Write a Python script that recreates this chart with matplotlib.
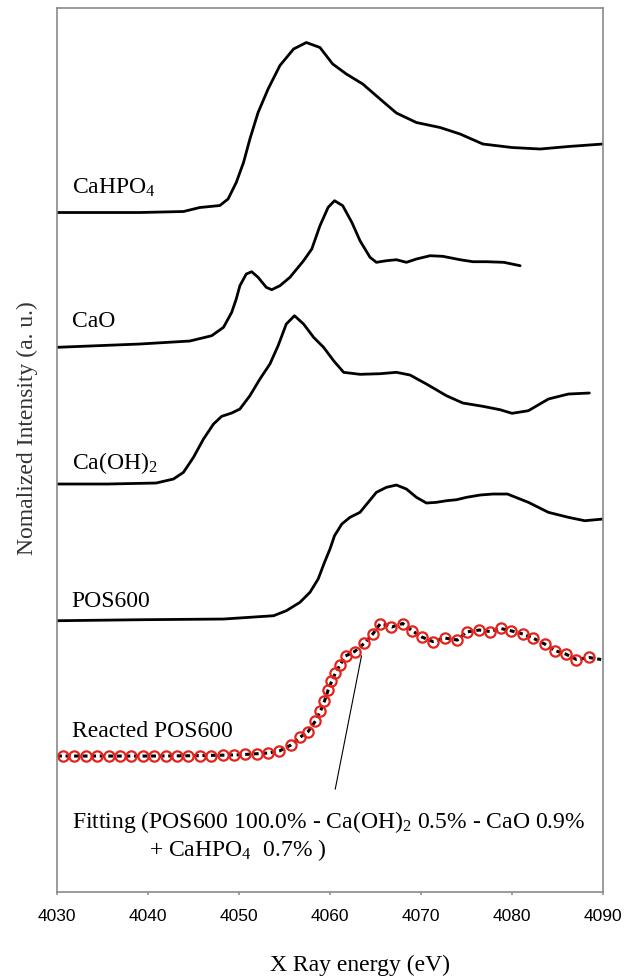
import matplotlib
matplotlib.use("Agg")
import matplotlib.pyplot as plt
from matplotlib import font_manager

# ---- data (energy in eV, edge-normalised intensity) ----
cahpo4_energy = [4030.0, 4039.1, 4043.9, 4045.7, 4047.9, 4048.8, 4049.7, 4050.5, 4051.2,
                 4052.1, 4053.2, 4054.5, 4056.0, 4057.4, 4058.9, 4060.3, 4061.8, 4063.6,
                 4065.5, 4067.3, 4069.5, 4072.1, 4074.3, 4076.8, 4080.0, 4083.1, 4086.2, 4090.0]
cahpo4_norm = [0.0, 0.0, 0.01, 0.05, 0.07, 0.135, 0.30, 0.50, 0.735,
               1.00, 1.235, 1.47, 1.635, 1.70, 1.65, 1.485, 1.385, 1.285,
               1.135, 0.995, 0.90, 0.85, 0.785, 0.685, 0.65, 0.635, 0.66, 0.685]

cao_energy = [4030.0, 4039.1, 4044.6, 4047.0, 4048.3, 4049.2, 4049.7, 4050.1, 4050.8,
              4051.4, 4052.1, 4053.0, 4053.6, 4054.5, 4055.6, 4057.1, 4058.0, 4058.9,
              4059.8, 4060.5, 4061.4, 4062.4, 4063.3, 4064.4, 4065.1, 4066.2, 4067.3,
              4068.4, 4069.5, 4071.0, 4072.4, 4074.3, 4075.7, 4077.2, 4079.1, 4080.9]
cao_norm = [0.0, 0.033, 0.063, 0.116, 0.20, 0.35, 0.483, 0.616, 0.733,
            0.756, 0.70, 0.60, 0.576, 0.616, 0.70, 0.866, 0.983, 1.216,
            1.40, 1.466, 1.416, 1.25, 1.066, 0.90, 0.85, 0.866, 0.876,
            0.85, 0.883, 0.916, 0.91, 0.876, 0.856, 0.856, 0.85, 0.816]

caoh2_energy = [4030.0, 4035.5, 4040.9, 4042.8, 4043.9, 4045.0, 4046.1, 4047.2, 4048.1,
                4049.2, 4050.1, 4051.2, 4052.3, 4053.4, 4054.3, 4055.2, 4056.1, 4057.1,
                4058.2, 4059.3, 4060.4, 4061.5, 4063.3, 4065.5, 4067.3, 4068.8, 4070.6,
                4072.8, 4074.6, 4076.8, 4078.7, 4080.0, 4081.8, 4084.0, 4086.2, 4088.5]
caoh2_norm = [0.0, 0.0, 0.01, 0.05, 0.117, 0.267, 0.45, 0.60, 0.677,
              0.71, 0.75, 0.883, 1.05, 1.20, 1.383, 1.60, 1.683, 1.60,
              1.467, 1.367, 1.233, 1.117, 1.097, 1.103, 1.117, 1.09, 1.00,
              0.883, 0.81, 0.777, 0.743, 0.707, 0.733, 0.85, 0.90, 0.91]

pos600_energy = [4030.0, 4039.1, 4048.3, 4053.8, 4055.2, 4056.7, 4057.8, 4058.7, 4059.4,
                 4060.0, 4060.5, 4061.3, 4062.2, 4063.3, 4064.2, 4065.1, 4066.2, 4067.3,
                 4068.4, 4069.5, 4070.6, 4071.7, 4072.8, 4073.9, 4075.0, 4076.5, 4077.9,
                 4079.5, 4081.8, 4084.0, 4086.2, 4088.0, 4090.0]
pos600_norm = [0.0, 0.01, 0.017, 0.05, 0.10, 0.184, 0.284, 0.417, 0.584,
               0.717, 0.85, 0.967, 1.034, 1.084, 1.184, 1.284, 1.334, 1.357,
               1.317, 1.234, 1.177, 1.184, 1.20, 1.21, 1.234, 1.257, 1.267,
               1.267, 1.184, 1.084, 1.034, 1.00, 1.017]

reacted_energy = [4030.0, 4040.0, 4045.0, 4050.0, 4053.2, 4054.5, 4055.7, 4056.7, 4057.6,
                  4058.4, 4059.0, 4059.4, 4059.8, 4060.2, 4060.6, 4061.1, 4061.7, 4062.7,
                  4063.8, 4064.7, 4065.5, 4066.2, 4066.8, 4067.4, 4068.0, 4069.0, 4070.1,
                  4071.3, 4072.6, 4074.0, 4075.0, 4076.4, 4077.6, 4078.8, 4080.0, 4081.2,
                  4082.3, 4083.6, 4084.7, 4085.9, 4087.1, 4088.5, 4089.8]
reacted_norm = [0.0, 0.0, 0.003, 0.012, 0.03, 0.053, 0.11, 0.187, 0.245,
                0.35, 0.46, 0.55, 0.66, 0.75, 0.83, 0.91, 1.0, 1.045,
                1.13, 1.22, 1.32, 1.31, 1.29, 1.31, 1.325, 1.255, 1.19,
                1.145, 1.18, 1.16, 1.24, 1.26, 1.245, 1.275, 1.25, 1.22,
                1.18, 1.12, 1.055, 1.02, 0.965, 0.985, 0.965]

fit_energy = [4030.66, 4031.91, 4033.16, 4034.42, 4035.67, 4036.92, 4038.17, 4039.42,
              4040.68, 4041.93, 4043.18, 4044.43, 4045.68, 4046.94, 4048.19, 4049.44,
              4050.69, 4051.94, 4053.20, 4054.45, 4055.70, 4056.69, 4057.60, 4058.39,
              4058.94, 4059.38, 4059.80, 4060.15, 4060.59, 4061.08, 4061.71, 4062.73,
              4063.77, 4064.74, 4065.51, 4066.76, 4068.00, 4069.01, 4070.11, 4071.33,
              4072.61, 4073.95, 4075.03, 4076.35, 4077.56, 4078.76, 4079.94, 4081.21,
              4082.31, 4083.60, 4084.69, 4085.90, 4087.08, 4088.46]
fit_norm = [0.0, 0.0, 0.0, 0.0, 0.0, 0.0, 0.0, 0.0,
            0.0, 0.0, 0.0, 0.0, 0.003, 0.005, 0.01, 0.01,
            0.017, 0.023, 0.03, 0.053, 0.11, 0.187, 0.243, 0.35,
            0.45, 0.55, 0.66, 0.75, 0.83, 0.91, 1.00, 1.043,
            1.133, 1.22, 1.325, 1.287, 1.325, 1.253, 1.192, 1.143,
            1.182, 1.158, 1.245, 1.258, 1.243, 1.277, 1.253, 1.22,
            1.177, 1.12, 1.053, 1.02, 0.963, 0.987]

# vertical stacking offsets (a. u.)
offsets = {"CaHPO4": 6.795, "CaO": 5.447, "Ca(OH)2": 4.08, "POS600": 2.713, "Reacted": 1.36}

sample_labels = [r"CaHPO$_\mathregular{4}$", "CaO", r"Ca(OH)$_\mathregular{2}$", "POS600", "Reacted POS600"]
label_heights = [7.047, 5.713, 4.297, 2.913, 1.613]
x_ticks = [4030, 4040, 4050, 4060, 4070, 4080, 4090]

fit_line1 = r"Fitting (POS600 100.0% - Ca(OH)$_\mathregular{2}$ 0.5% - CaO 0.9%"
fit_line2 = r"+ CaHPO$_\mathregular{4}$  0.7% )"

# ---- style ----
serif = "Liberation Serif"
installed = {f.name for f in font_manager.fontManager.ttflist}
tick_font = "Liberation Sans Narrow" if "Liberation Sans Narrow" in installed else "Liberation Sans"
tick_size = 14.5 if tick_font == "Liberation Sans Narrow" else 12.5

plt.rcParams["font.family"] = serif
plt.rcParams["mathtext.fontset"] = "custom"
plt.rcParams["mathtext.rm"] = serif
plt.rcParams["mathtext.it"] = serif + ":italic"

text_size = 17
spine_color = "#8a8a8a"

fig = plt.figure(figsize=(6.38, 9.79), dpi=100)
ax = fig.add_axes([0.0893, 0.0878, 0.9451 - 0.0893, 0.9908 - 0.0878])

curves = [
    (cahpo4_energy, cahpo4_norm, offsets["CaHPO4"]),
    (cao_energy, cao_norm, offsets["CaO"]),
    (caoh2_energy, caoh2_norm, offsets["Ca(OH)2"]),
    (pos600_energy, pos600_norm, offsets["POS600"]),
]
for energy, norm, off in curves:
    ax.plot(energy, [v + off for v in norm], color="black", lw=2.0,
            solid_capstyle="round", solid_joinstyle="round")

off = offsets["Reacted"]
ax.plot(reacted_energy, [v + off for v in reacted_norm], color="black", lw=2.2,
        linestyle=(0, (1.6, 1.2)))
ax.plot(fit_energy, [v + off for v in fit_norm], linestyle="none", marker="o", ms=7.4,
        mfc="none", mec="#e3231c", mew=1.6)

for label, yh in zip(sample_labels, label_heights):
    ax.text(4031.6, yh, label, fontsize=text_size, va="center", ha="left")

ax.text(4031.6, 0.713, fit_line1, fontsize=text_size, va="center", ha="left")
ax.text(4040.1, 0.43, fit_line2, fontsize=text_size, va="center", ha="left")

# pointer from the fitting note to the curve
ax.plot([4060.58, 4063.46], [1.03, 2.36], color="black", lw=0.8)

ax.set_xlim(4030, 4090)
ax.set_ylim(0, 8.84)
ax.set_xticks(x_ticks)
ax.set_xticklabels([str(t) for t in x_ticks], fontfamily=tick_font, fontsize=tick_size)
ax.set_yticks([])
ax.tick_params(axis="x", direction="out", length=2.5, width=1.1, color=spine_color, pad=9)
for spine in ax.spines.values():
    spine.set_color(spine_color)
    spine.set_linewidth(1.2)

fig.text(360 / 638, 1 - 965 / 979, "X Ray energy (eV)", fontsize=text_size, ha="center", va="center")
fig.text(27 / 638, 1 - 428 / 979, "Nomalized Intensity (a. u.)", fontsize=text_size,
         rotation=90, ha="center", va="center", color="#333333")

fig.savefig("out.png", dpi=100)
